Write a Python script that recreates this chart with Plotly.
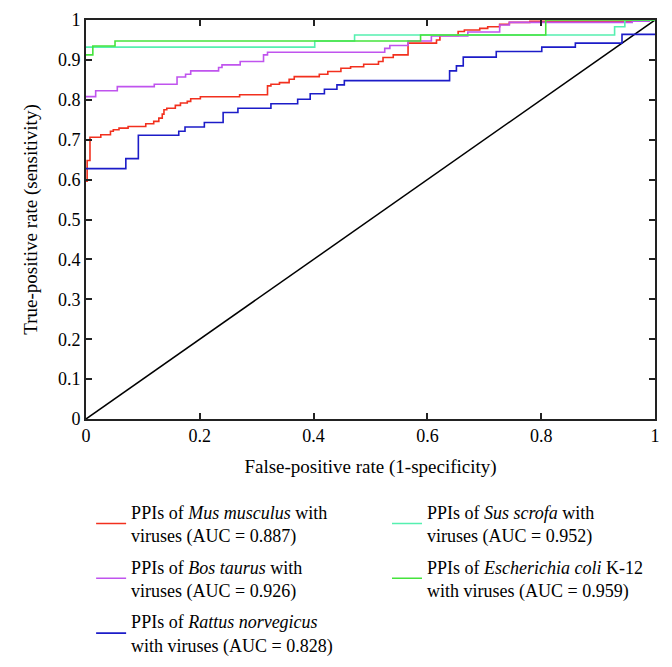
import plotly.graph_objects as go

# ROC step curves (false-positive rate, true-positive rate)
mus_fpr = [0, 0.002, 0.007, 0.026, 0.043, 0.048, 0.058, 0.074, 0.105, 0.119, 0.128, 0.134, 0.137,
           0.142, 0.157, 0.166, 0.178, 0.184, 0.201, 0.27, 0.319, 0.325, 0.34, 0.357, 0.366, 0.41,
           0.425, 0.448, 0.465, 0.488, 0.514, 0.522, 0.54, 0.566, 0.616, 0.622, 0.654, 0.665, 0.692,
           0.706, 0.727, 0.744, 0.78, 0.96, 1.0]
mus_tpr = [0.596, 0.648, 0.706, 0.7125, 0.721, 0.725, 0.729, 0.733, 0.74, 0.746, 0.754, 0.764, 0.775,
           0.779, 0.786, 0.792, 0.796, 0.8025, 0.8075, 0.8125, 0.835, 0.839, 0.843, 0.8515, 0.858, 0.864,
           0.871, 0.879, 0.883, 0.889, 0.896, 0.906, 0.9125, 0.942, 0.95, 0.961, 0.971, 0.975, 0.979,
           0.983, 0.989, 0.994, 0.997, 1.0, 1.0]

bos_fpr = [0, 0.017, 0.055, 0.12, 0.16, 0.175, 0.184, 0.233, 0.239, 0.271, 0.312, 0.319, 0.525,
           0.534, 0.566, 0.607, 0.671, 0.727, 0.744, 0.96, 0.99, 1.0]
bos_tpr = [0.808, 0.8225, 0.833, 0.839, 0.857, 0.864, 0.8725, 0.881, 0.8875, 0.896, 0.9125, 0.919,
           0.929, 0.936, 0.9475, 0.96, 0.97, 0.9875, 0.994, 0.997, 1.0, 1.0]

rat_fpr = [0, 0.07, 0.092, 0.163, 0.174, 0.208, 0.241, 0.267, 0.325, 0.372, 0.394, 0.419, 0.441,
           0.454, 0.639, 0.651, 0.663, 0.721, 0.801, 0.86, 0.942, 1.0]
rat_tpr = [0.6275, 0.6525, 0.711, 0.721, 0.732, 0.743, 0.768, 0.779, 0.79, 0.8015, 0.815, 0.8265,
           0.8375, 0.848, 0.8725, 0.885, 0.907, 0.921, 0.932, 0.942, 0.964, 0.964]

sus_fpr = [0, 0.402, 0.472, 0.929, 0.947, 1.0]
sus_tpr = [0.932, 0.9475, 0.9625, 0.983, 1.0, 1.0]

eco_fpr = [0, 0.012, 0.051, 0.588, 0.808, 1.0]
eco_tpr = [0.9125, 0.935, 0.9475, 0.9625, 1.0, 1.0]

names = [
    "PPIs of <i>Mus musculus</i> with<br>viruses (AUC = 0.887)",
    "PPIs of <i>Bos taurus</i> with<br>viruses (AUC = 0.926)",
    "PPIs of <i>Rattus norvegicus</i><br>with viruses (AUC = 0.828)",
    "PPIs of <i>Sus scrofa</i> with<br>viruses (AUC = 0.952)",
    "PPIs of <i>Escherichia coli</i> K-12<br>with viruses (AUC = 0.959)",
]
colors = ["#f2301e", "#c054ee", "#1c1cc8", "#55f0b0", "#45e33c"]
columns = ["legend", "legend", "legend", "legend2", "legend2"]
curves = [(mus_fpr, mus_tpr), (bos_fpr, bos_tpr), (rat_fpr, rat_tpr), (sus_fpr, sus_tpr), (eco_fpr, eco_tpr)]

font = "Liberation Serif"

fig = go.Figure()
fig.add_trace(go.Scatter(x=[0, 1], y=[0, 1], mode="lines", line=dict(color="black", width=1.5),
                         showlegend=False, hoverinfo="skip"))
for i, ((fx, ty), nm, col, lg) in enumerate(zip(curves, names, colors, columns)):
    fig.add_trace(go.Scatter(x=fx, y=ty, mode="lines", name=nm, legend=lg, legendgroup=f"g{i}",
                             line=dict(color=col, width=1.6, shape="hv")))

axis = dict(range=[0, 1], showline=True, linecolor="#222", linewidth=1.6, mirror="ticks",
            ticks="inside", ticklen=6, tickwidth=1.5, tickcolor="#222", showgrid=False, zeroline=False,
            automargin=False, tickfont=dict(family=font, size=18, color="black"))
fig.update_xaxes(**axis)
fig.update_xaxes(tickvals=[0, 0.2, 0.4, 0.6, 0.8, 1], ticktext=["0", "0.2", "0.4", "0.6", "0.8", "1"],
                 title=dict(text="False-positive rate (1-specificity)", font=dict(family=font, size=19), standoff=14))
fig.update_yaxes(**axis)
fig.update_yaxes(tickvals=[i / 10 for i in range(11)],
                 ticktext=["0", "0.1", "0.2", "0.3", "0.4", "0.5", "0.6", "0.7", "0.8", "0.9", "1"],
                 title=dict(text="True-positive rate (sensitivity)", font=dict(family=font, size=19), standoff=15))

leg = dict(orientation="v", yanchor="top", xanchor="left", y=-0.184, tracegroupgap=5,
           bgcolor="rgba(0,0,0,0)", font=dict(family=font, size=18, color="black"))
fig.update_layout(
    width=672, height=667,
    margin=dict(l=78, r=25, t=12, b=255),
    plot_bgcolor="white", paper_bgcolor="white",
    font=dict(family=font, size=18, color="black"),
    legend=dict(leg, x=0.009),
    legend2=dict(leg, x=0.529),
)

fig.write_html("out.html")
